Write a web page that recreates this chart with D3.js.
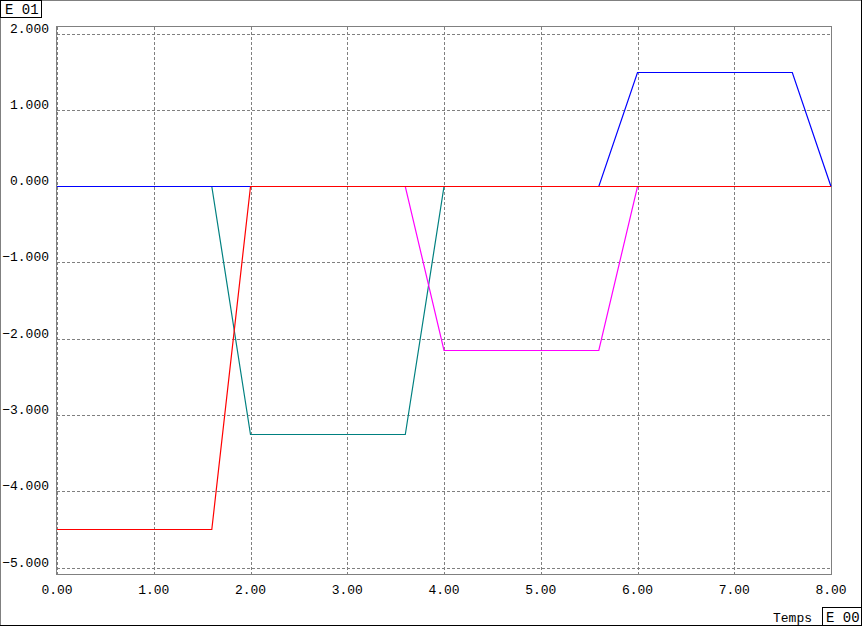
<!DOCTYPE html>
<html>
<head>
<meta charset="utf-8">
<script src="https://cdn.jsdelivr.net/npm/d3@7"></script>
<style>
  body { margin: 0; background: #fff; }
  text { font-family: "Liberation Mono", "DejaVu Sans Mono", monospace; font-size: 13px; fill: #000; }
</style>
</head>
<body>
<script>
// tick values
var xTicks = [0, 1, 2, 3, 4, 5, 6, 7, 8];
var yTicks = [2, 1, 0, -1, -2, -3, -4, -5];

// series: time (x) and value (y), in units of E 00 / E 01
var tealX = [0, 1.6, 2.0, 3.6, 4.0, 8.0];
var tealY = [0, 0, -3.25, -3.25, 0, 0];
var magentaX = [0, 3.6, 4.0, 5.6, 6.0, 8.0];
var magentaY = [0, 0, -2.15, -2.15, 0, 0];
var blueX = [0, 5.6, 6.0, 7.6, 8.0];
var blueY = [0, 0, 1.5, 1.5, 0];
var redX = [0, 1.6, 2.0, 8.0];
var redY = [-4.5, -4.5, 0, 0];

var series = [
  {x: tealX, y: tealY, color: "#008080"},
  {x: magentaX, y: magentaY, color: "#ff00ff"},
  {x: blueX, y: blueY, color: "#0000ff"},
  {x: redX, y: redY, color: "#ff0000"}
];

var W = 862, H = 626;
var svg = d3.select("body").append("svg").attr("width", W).attr("height", H);

var x = d3.scaleLinear().domain([0, 8]).range([57, 831]);
var y = d3.scaleLinear().domain([-5, 2]).range([567.5, 33.5]);

// outer window border
svg.append("line").attr("x1", 0).attr("y1", 0.5).attr("x2", W).attr("y2", 0.5).attr("stroke", "#808080");
svg.append("line").attr("x1", 0.5).attr("y1", 0).attr("x2", 0.5).attr("y2", H).attr("stroke", "#808080");
svg.append("line").attr("x1", W - 0.5).attr("y1", 0).attr("x2", W - 0.5).attr("y2", H).attr("stroke", "#000");
svg.append("line").attr("x1", 0).attr("y1", H - 0.5).attr("x2", W).attr("y2", H - 0.5).attr("stroke", "#000");

// grid
var grid = svg.append("g").attr("stroke", "#808080").attr("stroke-dasharray", "3,2").attr("shape-rendering", "crispEdges");
grid.selectAll("line.v").data(xTicks).enter().append("line")
  .attr("class", "v")
  .attr("x1", function(d){ return Math.round(x(d)) + 0.5; })
  .attr("x2", function(d){ return Math.round(x(d)) + 0.5; })
  .attr("y1", 27).attr("y2", 574);
grid.selectAll("line.h").data(yTicks).enter().append("line")
  .attr("class", "h")
  .attr("y1", function(d){ return Math.round(y(d)) + 0.5; })
  .attr("y2", function(d){ return Math.round(y(d)) + 0.5; })
  .attr("x1", 57).attr("x2", 831);

// plot frame
svg.append("rect").attr("x", 56.5).attr("y", 26.5).attr("width", 775).attr("height", 548)
  .attr("fill", "none").attr("stroke", "#808080").attr("shape-rendering", "crispEdges");

// tick labels
svg.selectAll("text.yl").data(yTicks).enter().append("text")
  .attr("class", "yl")
  .attr("x", 49)
  .attr("y", function(d){ return Math.round(y(d)) - 1; })
  .attr("text-anchor", "end")
  .text(function(d){ return d3.format(".3f")(d).replace("-", "\u2212"); });

svg.selectAll("text.xl").data(xTicks).enter().append("text")
  .attr("class", "xl")
  .attr("x", function(d){ return x(d); })
  .attr("y", 594)
  .attr("text-anchor", "middle")
  .text(function(d){ return d3.format(".2f")(d); });

// series lines
var line = d3.line()
  .x(function(d){ return x(d[0]); })
  .y(function(d){ return Math.round(y(d[1])) + 0.5; });

series.forEach(function(s){
  var pts = s.x.map(function(v, i){ return [v, s.y[i]]; });
  svg.append("path").attr("d", line(pts))
    .attr("fill", "none").attr("stroke", s.color).attr("stroke-width", 1.2);
});

// exponent labels
svg.append("rect").attr("x", 0.5).attr("y", 0.5).attr("width", 41).attr("height", 17)
  .attr("fill", "#fff").attr("stroke", "#000");
svg.append("text").attr("x", 5).attr("y", 14).style("font-size", "14px").text("E 01");

svg.append("text").attr("x", 773).attr("y", 622).text("Temps");
svg.append("rect").attr("x", 822.5).attr("y", 607.5).attr("width", 39).attr("height", 18)
  .attr("fill", "#fff").attr("stroke", "#000");
svg.append("text").attr("x", 826).attr("y", 622).style("font-size", "14px").text("E 00");
</script>
</body>
</html>
